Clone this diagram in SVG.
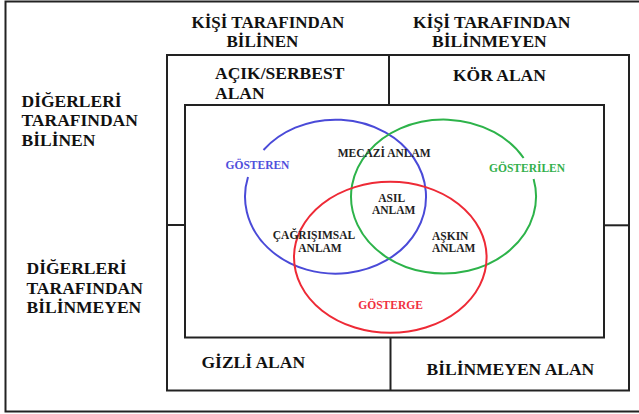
<svg xmlns="http://www.w3.org/2000/svg" width="639" height="414" viewBox="0 0 639 414">
<style>
  .frame { fill: none; stroke: #222; stroke-width: 2; }
  .line { fill: none; stroke: #222; stroke-width: 2; }
  .big { font-family: "Liberation Serif", "Times New Roman", serif; font-weight: bold; font-size: 17.5px; fill: #111; }
  .hdr { font-family: "Liberation Serif", "Times New Roman", serif; font-weight: bold; font-size: 17px; fill: #111; }
  .small { font-family: "Liberation Serif", "Times New Roman", serif; font-weight: bold; font-size: 11.5px; fill: #222; }
  .blue { stroke: #4a4ad8; stroke-width: 2; fill: none; }
  .green { stroke: #2db34a; stroke-width: 2; fill: none; }
  .red { stroke: #ee2a36; stroke-width: 2; fill: none; }
</style>
<rect width="639" height="414" fill="#ffffff"/>
<g id="outer-frame">
  <rect x="5.5" y="1.5" width="640" height="410" class="frame"/>
</g>
<g id="headers">
  <text class="hdr" x="191.5" y="28">KİŞİ TARAFINDAN</text>
  <text class="hdr" x="226.5" y="46.5">BİLİNEN</text>
  <text class="big" x="413" y="28">KİŞİ TARAFINDAN</text>
  <text class="big" x="432" y="46.5">BİLİNMEYEN</text>
  <text class="big" x="21.5" y="106.5">DİĞERLERİ</text>
  <text class="big" x="21.5" y="126">TARAFINDAN</text>
  <text class="big" x="21.5" y="145.5">BİLİNEN</text>
  <text class="big" x="26.5" y="274">DİĞERLERİ</text>
  <text class="big" x="26.5" y="293.5">TARAFINDAN</text>
  <text class="big" x="26.5" y="313">BİLİNMEYEN</text>
</g>
<g id="window">
  <rect x="167" y="55" width="462" height="335.5" class="frame"/>
</g>
<g id="connectors">
  <line x1="389" y1="55" x2="389" y2="105" class="line"/>
  <line x1="390.5" y1="337.5" x2="390.5" y2="390.5" class="line"/>
  <line x1="167" y1="225" x2="185" y2="225" class="line"/>
  <line x1="604" y1="225.3" x2="629" y2="225.3" class="line"/>
</g>
<g id="acik-alan">
  <text class="big" x="215" y="79">AÇIK/SERBEST</text>
  <text class="big" x="215" y="98.5">ALAN</text>
</g>
<g id="kor-alan">
  <text class="big" x="453" y="80.5">KÖR ALAN</text>
</g>
<g id="gizli-alan">
  <text class="big" x="201.5" y="368">GİZLİ ALAN</text>
</g>
<g id="bilinmeyen-alan">
  <text class="big" x="426.5" y="375">BİLİNMEYEN ALAN</text>
</g>
<g id="venn-box">
  <rect x="185" y="105" width="419" height="232.5" class="frame"/>
</g>
<g id="gosteren">
  <path class="blue" d="M263.5,150 A90.5,77 0 1 1 248,177"/>
  <text class="small" x="225.5" y="169" style="fill:#5050dc">GÖSTEREN</text>
</g>
<g id="gosterilen">
  <path class="green" d="M533.6,179 A92.5,77 0 1 1 523.6,158"/>
  <text class="small" x="489" y="172.3" style="fill:#33b04c">GÖSTERİLEN</text>
</g>
<g id="gosterge">
  <ellipse class="red" cx="390.3" cy="257.3" rx="96.3" ry="75.5"/>
  <text class="small" x="358.3" y="309.3" style="fill:#f0303e">GÖSTERGE</text>
</g>
<g id="mecazi-anlam">
  <text class="small" x="337.7" y="156.7">MECAZİ ANLAM</text>
</g>
<g id="asil-anlam">
  <text class="small" x="391.7" y="201.7" text-anchor="middle">ASIL</text>
  <text class="small" x="393.7" y="214" text-anchor="middle">ANLAM</text>
</g>
<g id="cagrisimsal-anlam">
  <text class="small" x="314" y="239.3" text-anchor="middle">ÇAĞRIŞIMSAL</text>
  <text class="small" x="320" y="251.7" text-anchor="middle">ANLAM</text>
</g>
<g id="askin-anlam">
  <text class="small" x="432" y="240">AŞKIN</text>
  <text class="small" x="432" y="252.3">ANLAM</text>
</g>
</svg>
